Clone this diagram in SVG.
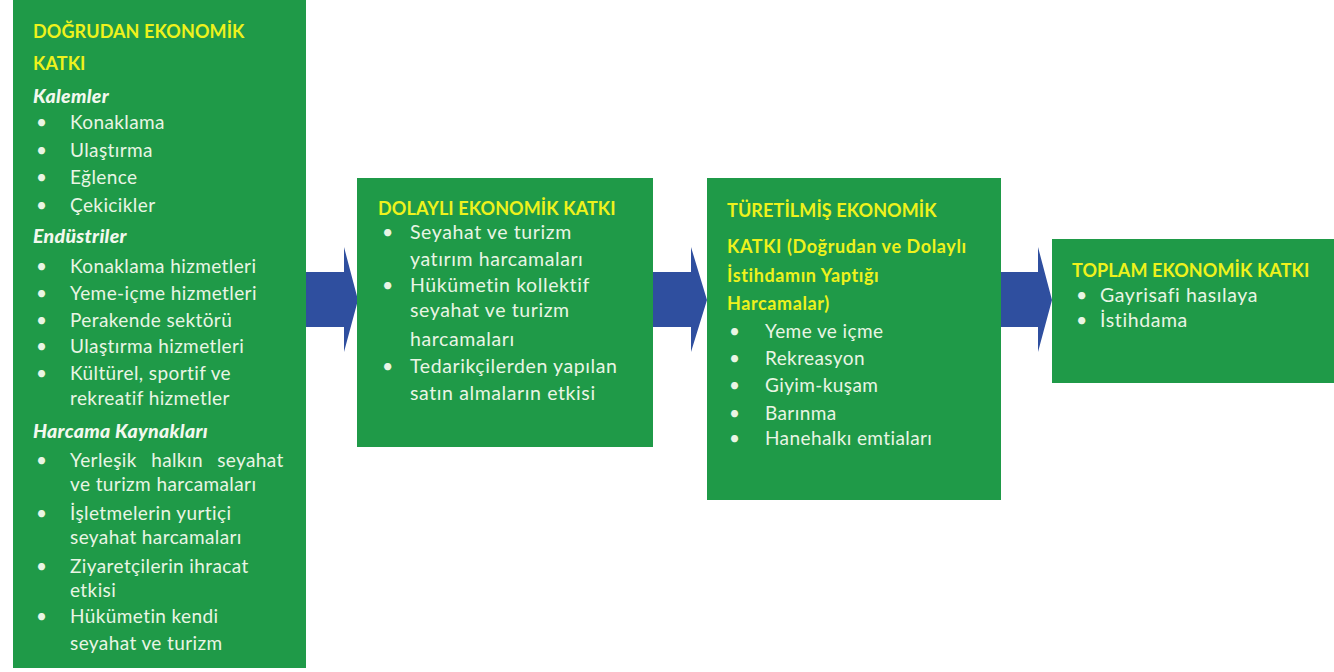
<svg xmlns="http://www.w3.org/2000/svg" width="1334" height="672" viewBox="0 0 1334 672">
<style>
.box{fill:#1f9a48}
.arrow{fill:#2f4f9f}
.title{font-family:Lato,"Liberation Sans",sans-serif;font-weight:bold;font-size:18px;letter-spacing:0.1px;fill:#eef21c}
.tw{letter-spacing:0.6px}
.sub{font-family:Lato,"Liberation Sans",sans-serif;font-weight:900;font-style:italic;font-size:19.5px;letter-spacing:0.3px;fill:#f2f8ee}
.body{font-family:Lato,"Liberation Sans",sans-serif;font-size:19px;letter-spacing:0.4px;fill:#e9f5e4}
.body2{font-family:Lato,"Liberation Sans",sans-serif;font-size:19.5px;letter-spacing:0.6px;fill:#e9f5e4}
</style>
<rect x="0" y="0" width="1334" height="672" fill="#ffffff"/>
<g id="connectors">
  <path class="arrow" d="M306,272 H344 V247 L358,300 L344,352 V327 H306 Z"/>
  <path class="arrow" d="M653,272 H691 V247 L707,300 L691,352 V327 H653 Z"/>
  <path class="arrow" d="M1001,272 H1038 V247 L1052,300 L1038,352 V327 H1001 Z"/>
</g>
<g id="node-dogrudan">
  <rect class="box" x="13" y="0" width="293" height="668"/>
  <text class="title" x="33" y="38">DOĞRUDAN EKONOMİK</text>
  <text class="title" x="33" y="70">KATKI</text>
  <text class="sub" x="33" y="103">Kalemler</text>
  <g class="body">
    <text x="36" y="129">•</text><text x="70" y="129">Konaklama</text>
    <text x="36" y="157">•</text><text x="70" y="157">Ulaştırma</text>
    <text x="36" y="184">•</text><text x="70" y="184">Eğlence</text>
    <text x="36" y="212">•</text><text x="70" y="212">Çekicikler</text>
  </g>
  <text class="sub" x="33" y="243">Endüstriler</text>
  <g class="body">
    <text x="36" y="273">•</text><text x="70" y="273">Konaklama hizmetleri</text>
    <text x="36" y="300">•</text><text x="70" y="300">Yeme-içme hizmetleri</text>
    <text x="36" y="327">•</text><text x="70" y="327">Perakende sektörü</text>
    <text x="36" y="353">•</text><text x="70" y="353">Ulaştırma hizmetleri</text>
    <text x="36" y="380">•</text><text x="70" y="380">Kültürel, sportif ve</text>
    <text x="70" y="405">rekreatif hizmetler</text>
  </g>
  <text class="sub" x="33" y="438">Harcama Kaynakları</text>
  <g class="body">
    <text x="36" y="467">•</text><text x="70" y="467" word-spacing="9">Yerleşik halkın seyahat</text>
    <text x="70" y="491">ve turizm harcamaları</text>
    <text x="36" y="520">•</text><text x="70" y="520">İşletmelerin yurtiçi</text>
    <text x="70" y="544">seyahat harcamaları</text>
    <text x="36" y="573">•</text><text x="70" y="573">Ziyaretçilerin ihracat</text>
    <text x="70" y="597">etkisi</text>
    <text x="36" y="623">•</text><text x="70" y="623">Hükümetin kendi</text>
    <text x="70" y="650">seyahat ve turizm</text>
  </g>
</g>
<g id="node-dolayli">
  <rect class="box" x="357" y="178" width="296" height="269"/>
  <text class="title" x="378" y="215">DOLAYLI EKONOMİK KATKI</text>
  <g class="body2">
    <text x="382" y="239">•</text><text x="410" y="239">Seyahat ve turizm</text>
    <text x="410" y="266">yatırım harcamaları</text>
    <text x="382" y="292">•</text><text x="410" y="292">Hükümetin kollektif</text>
    <text x="410" y="317">seyahat ve turizm</text>
    <text x="410" y="346">harcamaları</text>
    <text x="382" y="373">•</text><text x="410" y="373">Tedarikçilerden yapılan</text>
    <text x="410" y="400">satın almaların etkisi</text>
  </g>
</g>
<g id="node-turetilmis">
  <rect class="box" x="707" y="178" width="294" height="322"/>
  <text class="title" x="727" y="217">TÜRETİLMİŞ EKONOMİK</text>
  <text class="title tw" x="727" y="253">KATKI (Doğrudan ve Dolaylı</text>
  <text class="title tw" x="727" y="282">İstihdamın Yaptığı</text>
  <text class="title tw" x="727" y="310">Harcamalar)</text>
  <g class="body">
    <text x="729" y="338">•</text><text x="765" y="338">Yeme ve içme</text>
    <text x="729" y="365">•</text><text x="765" y="365">Rekreasyon</text>
    <text x="729" y="392">•</text><text x="765" y="392">Giyim-kuşam</text>
    <text x="729" y="420">•</text><text x="765" y="420">Barınma</text>
    <text x="729" y="445">•</text><text x="765" y="445">Hanehalkı emtiaları</text>
  </g>
</g>
<g id="node-toplam">
  <rect class="box" x="1052" y="239" width="282" height="144"/>
  <text class="title" x="1072" y="277">TOPLAM EKONOMİK KATKI</text>
  <g class="body2">
    <text x="1076" y="302">•</text><text x="1100" y="302">Gayrisafi hasılaya</text>
    <text x="1076" y="327">•</text><text x="1100" y="327">İstihdama</text>
  </g>
</g>
</svg>
